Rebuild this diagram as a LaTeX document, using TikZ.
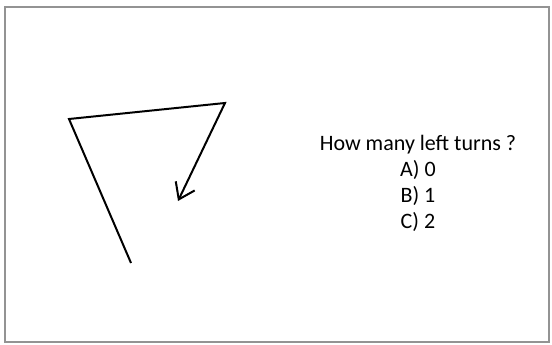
\documentclass[tikz,border=0pt]{standalone}
\usepackage{fontspec}
\setmainfont{Carlito}
\usetikzlibrary{arrows.meta,positioning,calc}

\begin{document}
\begin{tikzpicture}[
  x=1pt, y=-1pt,
  frame/.style={draw=gray!85, line width=2.4pt},
  path/.style={line width=2pt, line join=miter},
  turn/.style={-{Straight Barb[length=15pt, width=21pt, line width=2pt]}, path},
  question/.style={align=center, font=\fontsize{22}{26}\selectfont, inner sep=0pt}
]
\useasboundingbox (0,0) rectangle (552,345);
\draw[frame] (5,7) rectangle (549,342);

\coordinate (start) at (131,263);
\coordinate (c1) at (69,119);
\coordinate (c2) at (225,103);
\coordinate (tip) at (178,201);

\draw[turn] (start) -- (c1) -- (c2) -- (tip);

\node[question] (q) at (418,183) {How many left turns ?\\A) 0\\B) 1\\C) 2};
\end{tikzpicture}
\end{document}
